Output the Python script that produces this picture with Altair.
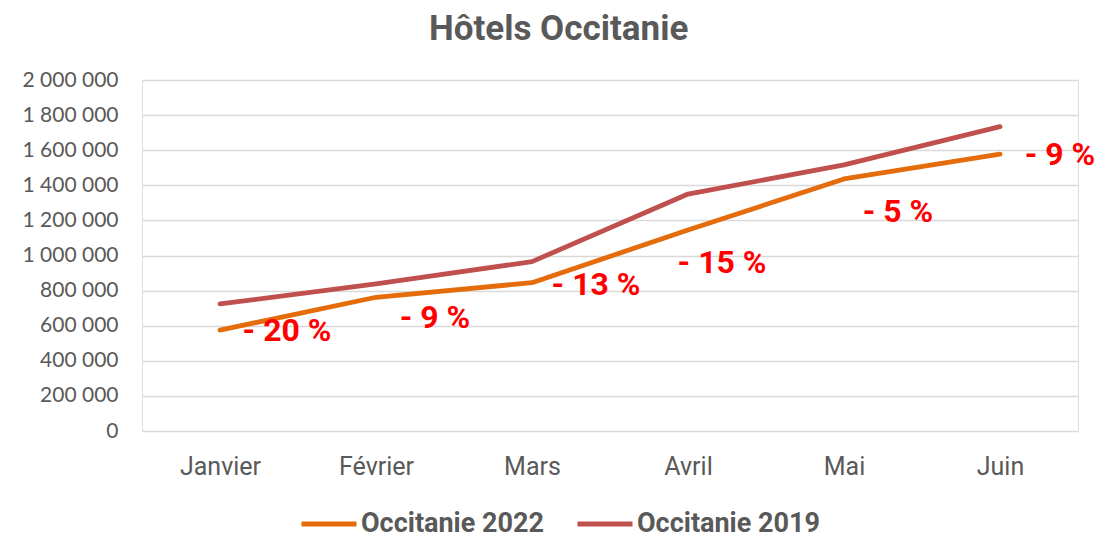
import altair as alt
import pandas as pd

months = ["Janvier", "Février", "Mars", "Avril", "Mai", "Juin"]
occ_2022 = [575000, 762000, 845000, 1145000, 1436000, 1577000]
occ_2019 = [724000, 838000, 965000, 1350000, 1516000, 1734000]
pct_labels = ["- 20 %", "- 9 %", "- 13 %", "- 15 %", "- 5 %", "- 9 %"]
series_names = ["Occitanie 2022", "Occitanie 2019"]
y_ticks = [0, 200000, 400000, 600000, 800000, 1000000, 1200000, 1400000,
           1600000, 1800000, 2000000]

# label placement offsets (pixels), styling only
label_dx = [67, 59, 64, 34, 54, 60]
label_dy = [1, 21, 2, 33, 33, 1]

rows = []
for m, v in zip(months, occ_2022):
    rows.append({"Mois": m, "Série": series_names[0], "Valeur": v})
for m, v in zip(months, occ_2019):
    rows.append({"Mois": m, "Série": series_names[1], "Valeur": v})
df = pd.DataFrame(rows)
lab_df = pd.DataFrame({"Mois": months, "Valeur": occ_2022, "Label": pct_labels})

NARROW = "Roboto"
GRAY = "#595959"

x_enc = alt.X("Mois:N", sort=months, title=None,
              axis=alt.Axis(labelAngle=0, labelFont=NARROW, labelFontSize=25,
                            labelColor=GRAY, ticks=False, domain=False,
                            labelPadding=23, grid=False))
y_enc = alt.Y("Valeur:Q", title=None,
              scale=alt.Scale(domain=[0, 2000000], nice=False),
              axis=alt.Axis(values=y_ticks, labelFont="Lato", labelFontSize=21,
                            labelColor=GRAY, ticks=False, domain=False,
                            labelPadding=24, gridColor="#d9d9d9", gridWidth=1.5,
                            labelOverlap=False,
                            labelExpr="replace(format(datum.value, ','), regexp(',', 'g'), ' ')"))

lines = alt.Chart(df).mark_line(strokeWidth=4.8, strokeCap="round", strokeJoin="round").encode(
    x=x_enc,
    y=y_enc,
    color=alt.Color("Série:N", sort=series_names,
                    scale=alt.Scale(domain=series_names, range=["#E46C0A", "#C0504D"]),
                    legend=alt.Legend(title=None, orient="none", legendX=157, legendY=414,
                                      direction="horizontal", symbolType="stroke",
                                      symbolSize=3025, symbolStrokeWidth=5,
                                      labelFont=NARROW, labelFontSize=27,
                                      labelFontWeight="bold", labelColor=GRAY,
                                      labelOffset=2, columnPadding=22, labelLimit=400)),
    order=alt.Order("Série:N"),
)

layers = [lines]
for i, m in enumerate(months):
    t = alt.Chart(lab_df).transform_filter(alt.datum.Mois == m).mark_text(
        font=NARROW, fontSize=32, fontWeight="bold", color="#FF0000",
        align="center", baseline="middle", dx=label_dx[i], dy=label_dy[i]
    ).encode(
        x=x_enc,
        y=y_enc,
        text="Label:N",
    )
    layers.append(t)

chart = alt.layer(*layers).properties(
    width=936,
    height=351,
    title=alt.TitleParams("Hôtels Occitanie", font=NARROW, fontSize=35,
                          fontWeight="bold", color=GRAY, offset=22,
                          anchor="middle", frame="bounds"),
    autosize=alt.AutoSizeParams(type="none"),
    padding={"left": 142, "top": 80, "right": 20, "bottom": 105},
).configure_view(stroke=None).configure(background="white")

chart.save("out.html", embed_options={"renderer": "svg", "actions": False})
